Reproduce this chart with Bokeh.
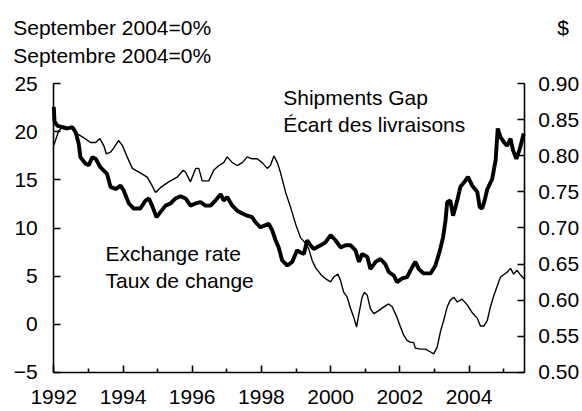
from bokeh.plotting import figure
from bokeh.models import (Range1d, LinearAxis, FixedTicker, NumeralTickFormatter, Label)
from bokeh.embed import file_html
from bokeh.resources import INLINE

# ---- data ----
gap_years = [1992.00, 1992.14, 1992.28, 1992.42, 1992.57, 1992.68, 1992.86, 1993.06, 1993.21, 1993.33,
             1993.44, 1993.52, 1993.64, 1993.73, 1993.87, 1993.98, 1994.12, 1994.27, 1994.51, 1994.70,
             1994.84, 1994.94, 1995.08, 1995.32, 1995.57, 1995.74, 1995.81, 1995.95, 1996.10, 1996.19,
             1996.29, 1996.48, 1996.62, 1996.77, 1996.91, 1997.01, 1997.16, 1997.30, 1997.45, 1997.59,
             1997.73, 1997.88, 1998.02, 1998.17, 1998.26, 1998.36, 1998.46, 1998.55, 1998.70, 1998.84,
             1998.99, 1999.13, 1999.28, 1999.37, 1999.47, 1999.56, 1999.71, 1999.86, 2000.00, 2000.09,
             2000.21, 2000.29, 2000.38, 2000.48, 2000.58, 2000.67, 2000.75, 2000.82, 2000.91, 2000.98,
             2001.06, 2001.15, 2001.25, 2001.39, 2001.54, 2001.68, 2001.78, 2001.92, 2002.02, 2002.12,
             2002.21, 2002.31, 2002.40, 2002.45, 2002.60, 2002.74, 2002.89, 2002.98, 2003.08, 2003.18,
             2003.27, 2003.37, 2003.46, 2003.56, 2003.66, 2003.80, 2003.95, 2004.09, 2004.24, 2004.33,
             2004.43, 2004.53, 2004.62, 2004.72, 2004.91, 2005.10, 2005.20, 2005.29, 2005.39, 2005.49,
             2005.60]
gap_values = [18.6, 20.1, 20.6, 20.4, 20.5, 19.8, 19.4, 18.9, 18.9, 19.3,
              18.6, 17.7, 17.9, 18.3, 19.1, 18.6, 17.4, 16.2, 15.7, 15.3,
              14.4, 13.7, 14.2, 14.8, 15.3, 16.0, 15.8, 14.8, 16.2, 16.2,
              14.9, 14.9, 16.0, 16.5, 16.8, 17.4, 16.8, 16.5, 16.8, 17.4,
              17.2, 17.2, 16.8, 16.2, 16.5, 17.5, 16.8, 15.8, 13.7, 12.2,
              10.4, 9.0, 8.4, 7.8, 6.6, 5.9, 5.2, 4.7, 4.4, 4.9,
              5.2, 4.5, 3.3, 2.8, 1.6, 0.7, -0.3, 1.1, 2.8, 3.3,
              3.0, 1.6, 1.1, 1.4, 1.8, 2.1, 1.8, 0.7, -0.3, -1.2,
              -1.7, -1.9, -1.9, -2.5, -2.6, -2.6, -2.9, -3.1, -2.4, -0.7,
              0.4, 1.8, 2.5, 2.8, 2.3, 2.6, 2.0, 1.2, 0.6, -0.2,
              -0.2, 0.4, 1.8, 3.0, 4.9, 5.4, 5.8, 5.2, 5.6, 5.1,
              4.7]

fx_years = [1992.00, 1992.02, 1992.10, 1992.24, 1992.39, 1992.53, 1992.63, 1992.72, 1992.77, 1992.92,
            1993.01, 1993.11, 1993.21, 1993.35, 1993.54, 1993.64, 1993.79, 1993.93, 1994.02, 1994.17,
            1994.31, 1994.50, 1994.65, 1994.75, 1994.84, 1994.97, 1995.08, 1995.23, 1995.37, 1995.52,
            1995.66, 1995.81, 1995.95, 1996.10, 1996.24, 1996.38, 1996.53, 1996.67, 1996.82, 1996.91,
            1997.01, 1997.16, 1997.30, 1997.45, 1997.59, 1997.73, 1997.83, 1997.97, 1998.12, 1998.21,
            1998.31, 1998.41, 1998.50, 1998.60, 1998.75, 1998.89, 1999.03, 1999.13, 1999.23, 1999.32,
            1999.42, 1999.51, 1999.71, 1999.85, 2000.00, 2000.14, 2000.29, 2000.43, 2000.58, 2000.72,
            2000.82, 2000.91, 2001.06, 2001.15, 2001.30, 2001.44, 2001.58, 2001.68, 2001.83, 2001.92,
            2002.07, 2002.21, 2002.36, 2002.45, 2002.55, 2002.69, 2002.89, 2003.03, 2003.16, 2003.25,
            2003.32, 2003.37, 2003.46, 2003.54, 2003.66, 2003.75, 2003.90, 2003.97, 2004.09, 2004.24,
            2004.31, 2004.38, 2004.45, 2004.53, 2004.67, 2004.77, 2004.83, 2004.91, 2005.01, 2005.10,
            2005.20, 2005.27, 2005.37, 2005.47, 2005.58]
fx_values = [0.868, 0.848, 0.842, 0.840, 0.838, 0.840, 0.833, 0.817, 0.798, 0.789,
             0.787, 0.798, 0.796, 0.784, 0.775, 0.757, 0.754, 0.759, 0.752, 0.734,
             0.727, 0.727, 0.738, 0.741, 0.731, 0.715, 0.722, 0.731, 0.734, 0.741,
             0.744, 0.741, 0.731, 0.734, 0.736, 0.731, 0.731, 0.738, 0.747, 0.738,
             0.743, 0.731, 0.724, 0.720, 0.717, 0.715, 0.708, 0.701, 0.704, 0.706,
             0.697, 0.683, 0.673, 0.655, 0.648, 0.653, 0.669, 0.666, 0.664, 0.683,
             0.676, 0.671, 0.676, 0.680, 0.690, 0.683, 0.673, 0.676, 0.676, 0.669,
             0.653, 0.664, 0.660, 0.643, 0.653, 0.657, 0.650, 0.639, 0.634, 0.625,
             0.630, 0.632, 0.646, 0.653, 0.643, 0.637, 0.637, 0.648, 0.669, 0.687,
             0.710, 0.736, 0.738, 0.717, 0.738, 0.757, 0.766, 0.771, 0.759, 0.750,
             0.729, 0.727, 0.738, 0.754, 0.768, 0.794, 0.838, 0.826, 0.819, 0.814,
             0.824, 0.808, 0.796, 0.810, 0.831]

major_years = [1992, 1994, 1996, 1998, 2000, 2002, 2004]
minor_years = [1993, 1995, 1997, 1999, 2001, 2003, 2005]
left_ticks = [-5, 0, 5, 10, 15, 20, 25]
right_ticks = [0.50, 0.55, 0.60, 0.65, 0.70, 0.75, 0.80, 0.85, 0.90]
x_start, x_end = 1992.0, 2005.6          # span of the plotted period
gap_min, gap_max = -5, 25                # left scale
fx_min, fx_max = 0.50, 0.90              # right scale

FONT = "Liberation Sans"
FS = "21px"

# The frame covers the whole canvas; the visible axes are drawn at fixed
# locations so that the surrounding notes can be placed as labels.
p = figure(width=582, height=411, output_backend="svg", toolbar_location=None,
           x_range=Range1d(1990.4595, 2007.2803), y_range=Range1d(-9.09, 33.668))
p.min_border_left = 0
p.min_border_right = 0
p.min_border_top = 0
p.min_border_bottom = 0
p.outline_line_color = None
p.background_fill_color = "white"
p.border_fill_color = "white"
p.xgrid.visible = False
p.ygrid.visible = False
p.extra_y_ranges = {"fx": Range1d(0.44549, 1.01553)}

# bottom axis
xa = p.xaxis[0]
xa.ticker = FixedTicker(ticks=major_years, minor_ticks=minor_years)
xa.bounds = (x_start, x_end)
xa.fixed_location = gap_min
xa.major_tick_in = 7
xa.major_tick_out = 0
xa.minor_tick_in = 4
xa.minor_tick_out = 0
xa.major_label_standoff = 18

# left axis
ya = p.yaxis[0]
ya.ticker = FixedTicker(ticks=left_ticks)
ya.bounds = (gap_min, gap_max)
ya.fixed_location = x_start
ya.major_tick_in = 7
ya.major_tick_out = 0
ya.minor_tick_line_color = None
ya.major_label_standoff = 16

# right axis
ra = LinearAxis(y_range_name="fx", ticker=FixedTicker(ticks=right_ticks),
                formatter=NumeralTickFormatter(format="0.00"),
                bounds=(fx_min, fx_max), fixed_location=x_end)
ra.major_tick_in = 7
ra.major_tick_out = 0
ra.minor_tick_line_color = None
ra.major_label_standoff = 14
p.add_layout(ra, "right")

for ax in (xa, ya, ra):
    ax.axis_line_color = "black"
    ax.axis_line_width = 1.6
    ax.major_tick_line_color = "black"
    ax.major_tick_line_width = 1.6
    ax.minor_tick_line_width = 1.6
    ax.major_label_text_font = FONT
    ax.major_label_text_font_size = FS
    ax.major_label_text_color = "black"

p.line(gap_years, gap_values, line_color="black", line_width=1.4)
p.line(fx_years, fx_values, line_color="black", line_width=3.9, y_range_name="fx")

notes = [
    ("September 2004=0%", 1990.827, 30.83),
    ("Septembre 2004=0%", 1990.827, 27.91),
    ("$", 2006.549, 30.89),
    ("Shipments Gap", 1998.630, 23.54),
    ("\u00c9cart des livraisons", 1998.630, 20.77),
    ("Exchange rate", 1993.494, 7.31),
    ("Taux de change", 1993.494, 4.53),
]
for t, x, y in notes:
    p.add_layout(Label(x=x, y=y, text=t, text_font=FONT, text_font_size=FS,
                       text_color="black", text_align="left", text_baseline="alphabetic"))

open("out.html", "w").write(file_html(p, INLINE))
